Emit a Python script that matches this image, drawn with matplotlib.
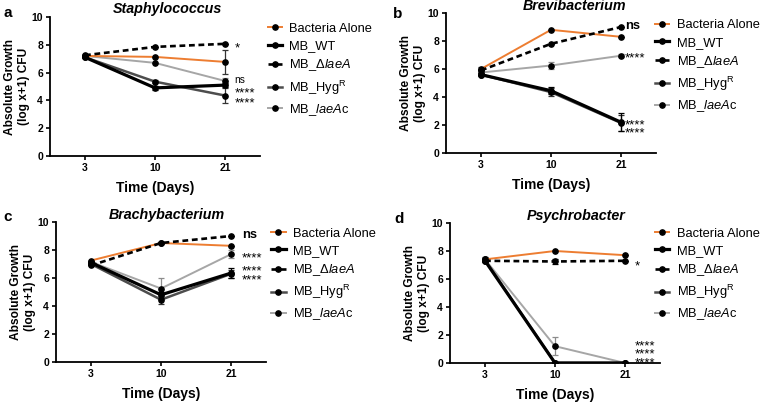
import numpy as np
import matplotlib
matplotlib.use('Agg')
import matplotlib.pyplot as plt

plt.rcParams['font.family'] = ['Liberation Sans', 'DejaVu Sans']
plt.rcParams['mathtext.fontset'] = 'custom'
plt.rcParams['mathtext.rm'] = 'Liberation Sans'
plt.rcParams['mathtext.it'] = 'Liberation Sans:italic'
plt.rcParams['mathtext.bf'] = 'Liberation Sans:bold'

days = ['3', '10', '21']
series = ['Bacteria Alone', 'MB_WT', r'MB_$\Delta\mathit{laeA}$',
          r'MB_Hyg$^{\mathrm{R}}$', r'MB_$\mathit{laeA}$c']
titles = ['Staphylococcus', 'Brevibacterium', 'Brachybacterium', 'Psychrobacter']
letters = ['a', 'b', 'c', 'd']

# mean log CFU per series, one row per series in the order above
staph = [[7.2, 7.13, 6.77], [7.1, 4.9, 5.1], [7.25, 7.85, 8.07], [7.1, 5.35, 4.35], [7.2, 6.7, 5.4]]
staph_err = [[0, 0, 0.85], [0, 0.15, 0.15], [0, 0, 0], [0, 0.1, 0.55], [0, 0, 0.2]]
brevi = [[6.0, 8.8, 8.3], [5.6, 4.45, 2.2], [5.9, 7.8, 9.0], [5.6, 4.35, 2.15], [5.75, 6.25, 6.95]]
brevi_err = [[0.15, 0, 0], [0, 0.25, 0.65], [0, 0, 0], [0, 0.3, 0.6], [0, 0.25, 0.1]]
brachy = [[7.25, 8.5, 8.3], [7.1, 4.8, 6.35], [6.9, 8.5, 9.0], [7.0, 4.45, 6.3], [7.15, 5.25, 7.7]]
brachy_err = [[0, 0, 0], [0, 0.2, 0.35], [0, 0, 0], [0, 0.3, 0.3], [0, 0.75, 0.3]]
psychro = [[7.4, 8.0, 7.7], [7.3, 0, 0], [7.3, 7.25, 7.3], [7.35, 0, 0], [7.4, 1.2, 0]]
psychro_err = [[0.2, 0, 0], [0, 0, 0], [0, 0.2, 0], [0, 0, 0], [0, 0.65, 0]]

# significance labels at day 21: (y of bottom line, text, bold, gap between stacked lines)
staph_sig = [(8.07, '*', False, 0), (5.45, 'ns', False, 0), (4.1, '****\n****', False, 0.7)]
brevi_sig = [(9.05, 'ns', True, 0), (7.05, '****', False, 0), (1.7, '****\n****', False, 0.5)]
brachy_sig = [(9.1, 'ns', True, 0), (7.73, '****', False, 0), (6.17, '****\n****', False, 0.48)]
psychro_sig = [(7.2, '*', False, 0), (0.28, '****\n****\n****', False, 0.54)]

colors = ['#ED7D31', 'black', 'black', '#4D4D4D', '#A6A6A6']
err_colors = ['#333333', 'black', 'black', '#333333', '#8C8C8C']
widths = [1.4, 2.3, 1.9, 1.8, 1.4]
styles = ['-', '-', (0, (2.2, 1.4)), '-', '-']
zorders = [4, 3, 5, 2, 1]

panels = [(staph, staph_err, staph_sig), (brevi, brevi_err, brevi_sig),
          (brachy, brachy_err, brachy_sig), (psychro, psychro_err, psychro_sig)]
positions = [[0.0658, 0.6129, 0.2763, 0.3449], [0.5868, 0.6203, 0.2763, 0.3474],
             [0.0737, 0.1017, 0.2763, 0.3474], [0.5921, 0.0993, 0.2763, 0.3474]]
title_x = [0.56, 0.61, 0.53, 0.6]
title_pad = [3, 0.3, 0.3, 1.2]
sig_dx = [7, 3, 8, 7]
legend_pos = [(0.352, 0.943), (0.862, 0.952), (0.357, 0.435), (0.862, 0.435)]
letter_pos = [(0.004, 0.985), (0.517, 0.983), (0.004, 0.478), (0.519, 0.475)]

star_size = 9.5
line_px = 0.905 * star_size * 100 / 72   # baseline step at linespacing 1, px

fig = plt.figure(figsize=(7.6, 4.03), dpi=100)
for i, (vals, errs, sig) in enumerate(panels):
    ax = fig.add_axes(positions[i])
    x = np.arange(len(days))
    handles = []
    for j in range(len(series)):
        c = ax.errorbar(x, vals[j], yerr=errs[j], color=colors[j], ecolor=err_colors[j],
                        elinewidth=0.9, capsize=2.2, capthick=0.9, lw=widths[j],
                        ls=styles[j], marker='o', ms=3.8, mfc='black', mec='black',
                        label=series[j], zorder=zorders[j])
        handles.append(c[0])
    px_per_unit = positions[i][3] * 403 / 10
    for y, s, b, gap in sig:
        if s == 'ns':
            ax.annotate(s, (2, y), xytext=(sig_dx[i], 0), textcoords='offset points',
                        ha='left', va='center', fontsize=9.3 if b else 7.3,
                        fontweight='bold' if b else 'normal')
        else:
            ls = gap * px_per_unit / line_px if gap else 1.0
            ax.annotate(s, (2, y), xytext=(sig_dx[i], -5.3), textcoords='offset points',
                        ha='left', va='baseline', fontsize=star_size, linespacing=ls)
    ax.set_xlim(-0.5, 2.5)
    ax.set_ylim(0, 10)
    ax.set_xticks(x)
    ax.set_xticklabels(days)
    ax.set_yticks([0, 2, 4, 6, 8, 10])
    for lab in ax.get_xticklabels() + ax.get_yticklabels():
        lab.set_fontweight('bold')
        lab.set_fontsize(7.5)
    ax.tick_params(length=3, width=1.2, pad=2)
    ax.spines['top'].set_visible(False)
    ax.spines['right'].set_visible(False)
    ax.spines['left'].set_linewidth(1.3)
    ax.spines['bottom'].set_linewidth(1.3)
    ax.set_xlabel('Time (Days)', fontsize=10, fontweight='bold', labelpad=6)
    ax.set_ylabel('Absolute Growth\n(log x+1) CFU', fontsize=8.6, fontweight='bold', labelpad=1)
    ax.set_title(titles[i], fontsize=10.3, fontweight='bold', fontstyle='italic',
                 x=title_x[i], pad=title_pad[i])
    ax.legend(handles, series, loc='upper left', bbox_to_anchor=legend_pos[i],
              bbox_transform=fig.transFigure, frameon=False, fontsize=9.3,
              handlelength=1.1, handletextpad=0.6, labelspacing=0.4,
              borderpad=0, borderaxespad=0, numpoints=1)
    fig.text(letter_pos[i][0], letter_pos[i][1], letters[i], fontsize=11,
             fontweight='bold', ha='left', va='top')

fig.savefig('out.png', dpi=100)
